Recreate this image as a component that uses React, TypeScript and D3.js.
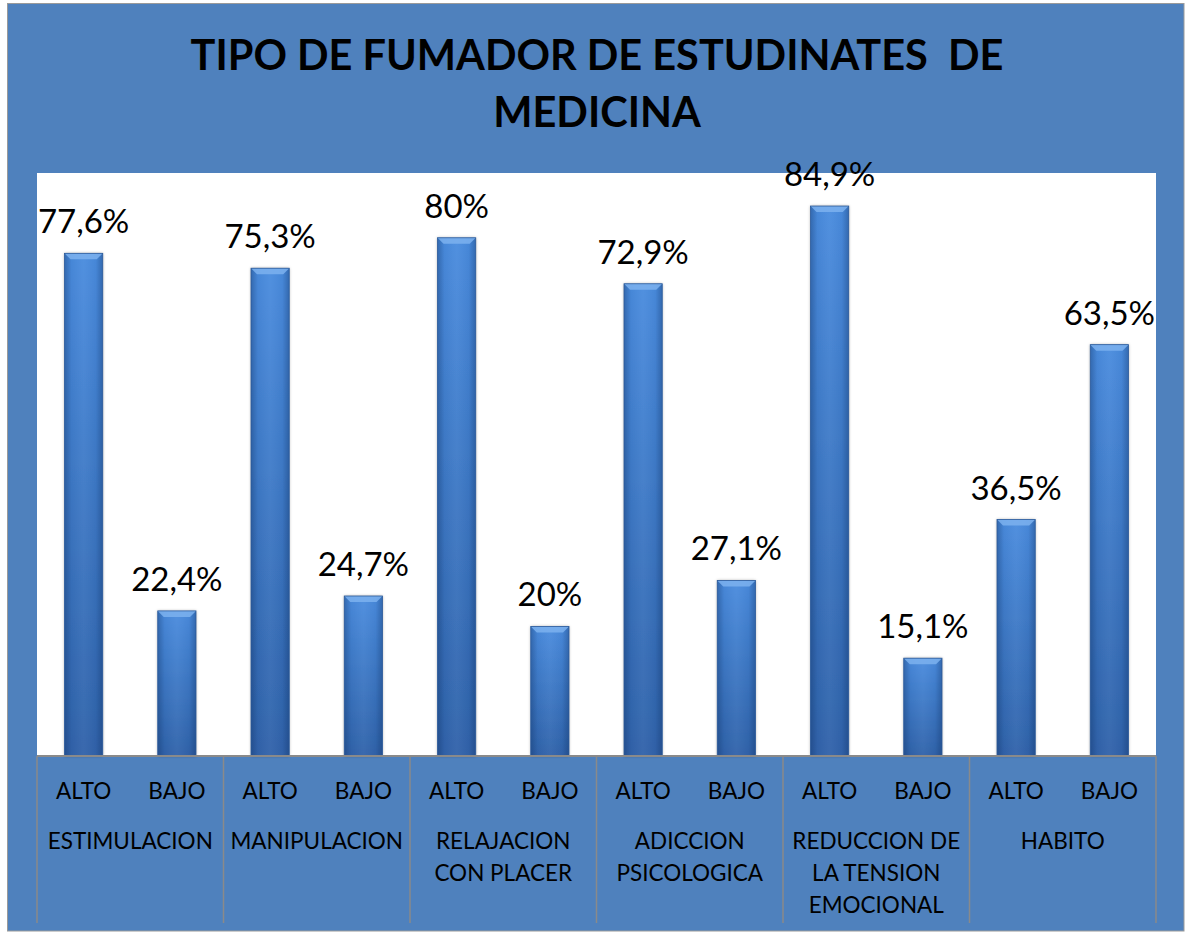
import React from 'react';
import * as d3 from 'd3';

const titleLines = ['TIPO DE FUMADOR DE ESTUDINATES  DE', 'MEDICINA'];
const categories = [
  'ESTIMULACION',
  'MANIPULACION',
  'RELAJACION CON PLACER',
  'ADICCION PSICOLOGICA',
  'REDUCCION DE LA TENSION EMOCIONAL',
  'HABITO',
];
const levels = ['ALTO', 'BAJO'];
const altoValues = [77.6, 75.3, 80, 72.9, 84.9, 36.5];
const bajoValues = [22.4, 24.7, 20, 27.1, 15.1, 63.5];
const altoLabels = ['77,6%', '75,3%', '80%', '72,9%', '84,9%', '36,5%'];
const bajoLabels = ['22,4%', '24,7%', '20%', '27,1%', '15,1%', '63,5%'];

// greedy wrap, Excel-ish: about 12 chars per line in a category cell
function wrap(label: string, max = 12) {
  const lines: string[] = [];
  let cur = '';
  label.split(' ').forEach(w => {
    const next = cur ? cur + ' ' + w : w;
    if (next.length > max && cur) {
      lines.push(cur);
      cur = w;
    } else {
      cur = next;
    }
  });
  if (cur) lines.push(cur);
  return lines;
}

export default function App() {
  const width = 1185;
  const height = 932;
  const frame = { left: 7.5, top: 3.5, right: 1184, bottom: 931 };
  const plot = { left: 37, top: 173, right: 1156, bottom: 756 };
  const font = 'Lato, "Open Sans", sans-serif';

  const x = d3.scaleBand<string>().domain(categories).range([plot.left, plot.right]).padding(0);
  const inner = d3.scalePoint<string>().domain(levels).range([0, x.bandwidth()]).padding(0.5);
  const barW = inner.step() * 0.41;
  const y = d3.scaleLinear().domain([0, 90]).range([plot.bottom, plot.top]);

  const bars = categories.flatMap((c, i) => [
    { cat: c, level: 'ALTO', value: altoValues[i], label: altoLabels[i] },
    { cat: c, level: 'BAJO', value: bajoValues[i], label: bajoLabels[i] },
  ]);

  const bevel = 6;
  const divider = '#8a8a8a';

  return (
    <svg
      width={width}
      height={height}
      style={{ position: 'absolute', left: 0, top: 0, display: 'block', background: '#fff' }}
    >
      <defs>
        <linearGradient id="barV" x1="0" y1="0" x2="0" y2="1">
          <stop offset="0%" stopColor="#4a8cde" />
          <stop offset="100%" stopColor="#3063aa" />
        </linearGradient>
        <linearGradient id="barH" x1="0" y1="0" x2="1" y2="0">
          <stop offset="0%" stopColor="#0a2a5a" stopOpacity={0.35} />
          <stop offset="18%" stopColor="#0a2a5a" stopOpacity={0.05} />
          <stop offset="50%" stopColor="#ffffff" stopOpacity={0.04} />
          <stop offset="82%" stopColor="#0a2a5a" stopOpacity={0.05} />
          <stop offset="100%" stopColor="#0a2a5a" stopOpacity={0.35} />
        </linearGradient>
        <filter id="shadow" x="-30%" y="-5%" width="160%" height="110%">
          <feDropShadow dx="0" dy="0" stdDeviation="1.6" floodColor="#000" floodOpacity="0.35" />
        </filter>
      </defs>

      <rect
        x={frame.left}
        y={frame.top}
        width={frame.right - frame.left}
        height={frame.bottom - frame.top}
        fill="#4f81bd"
        stroke="#9a9a9a"
        strokeWidth={1}
      />

      <rect x={plot.left} y={plot.top} width={plot.right - plot.left} height={plot.bottom - plot.top} fill="#ffffff" />

      {titleLines.map((t, i) => (
        <text
          key={i}
          x={597}
          y={70 + i * 57}
          textAnchor="middle"
          fontFamily={font}
          fontWeight="bold"
          fontSize={41.5}
          fill="#000"
          style={{ whiteSpace: 'pre' }}
        >
          {t}
        </text>
      ))}

      {bars.map((b, i) => {
        const cx = (x(b.cat) as number) + (inner(b.level) as number);
        const x0 = cx - barW / 2;
        const y0 = y(b.value);
        const h = plot.bottom - y0;
        return (
          <g key={i}>
            <g filter="url(#shadow)">
              <rect x={x0} y={y0} width={barW} height={h} fill="url(#barV)" />
            </g>
            <rect x={x0} y={y0} width={barW} height={h} fill="url(#barH)" />
            <polygon
              points={`${x0},${y0} ${x0 + barW},${y0} ${x0 + barW - bevel},${y0 + bevel} ${x0 + bevel},${y0 + bevel}`}
              fill="#7db2ee"
              opacity={0.85}
            />
            <rect x={x0} y={y0} width={barW} height={h} fill="none" stroke="#2c5a99" strokeWidth={0.8} />
            <text
              x={cx}
              y={y0 - 20}
              textAnchor="middle"
              fontFamily={font}
              fontSize={33}
              fill="#000"
            >
              {b.label}
            </text>
          </g>
        );
      })}

      <line x1={plot.left} x2={plot.right} y1={plot.bottom} y2={plot.bottom} stroke={divider} strokeWidth={2} />

      {d3.range(categories.length + 1).map(i => {
        const xx = i < categories.length ? (x(categories[i]) as number) : plot.right;
        return <line key={i} x1={xx} x2={xx} y1={plot.bottom} y2={923} stroke={divider} strokeWidth={1.5} />;
      })}

      {bars.map((b, i) => (
        <text
          key={'l' + i}
          x={(x(b.cat) as number) + (inner(b.level) as number)}
          y={799}
          textAnchor="middle"
          fontFamily={font}
          fontSize={22.5}
          fill="#000"
        >
          {b.level}
        </text>
      ))}

      {categories.map(c => (
        <text
          key={c}
          x={(x(c) as number) + x.bandwidth() / 2}
          y={849}
          textAnchor="middle"
          fontFamily={font}
          fontSize={22.5}
          fill="#000"
        >
          {wrap(c).map((line, j) => (
            <tspan key={j} x={(x(c) as number) + x.bandwidth() / 2} dy={j === 0 ? 0 : 32}>
              {line}
            </tspan>
          ))}
        </text>
      ))}
    </svg>
  );
}
